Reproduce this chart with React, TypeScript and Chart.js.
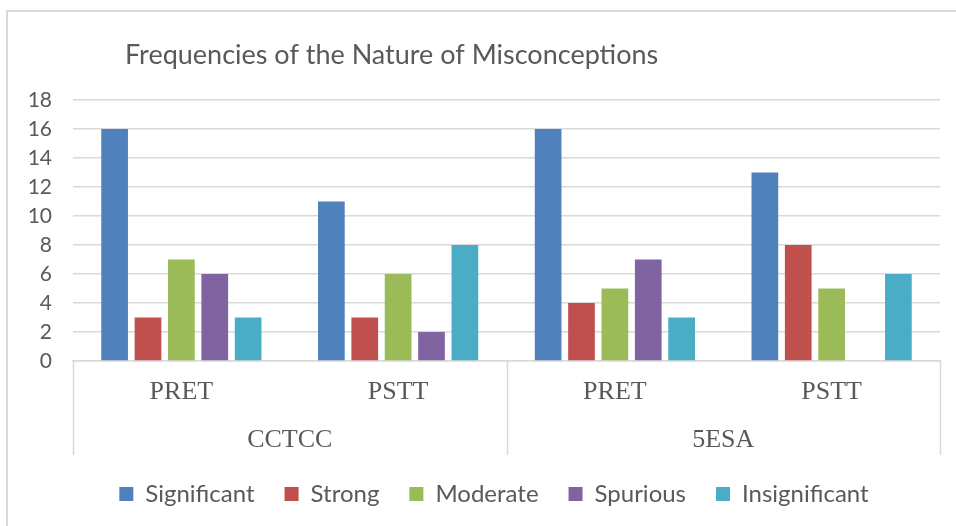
import React, { useEffect, useRef } from 'react';
import { Chart, registerables } from 'chart.js';

Chart.register(...registerables);

const categories = ['PRET', 'PSTT', 'PRET', 'PSTT'];
const groups = ['CCTCC', '5ESA'];
const groupSizes = [2, 2];
const seriesNames = ['Significant', 'Strong', 'Moderate', 'Spurious', 'Insignificant'];
const significant = [16, 11, 16, 13];
const strong = [3, 3, 4, 8];
const moderate = [7, 6, 5, 5];
const spurious = [6, 2, 7, 0];
const insignificant = [3, 8, 3, 6];
const seriesColors = ['#4F81BD', '#C0504D', '#9BBB59', '#8064A2', '#4BACC6'];
const yMin = 0;
const yMax = 18;
const yStep = 2;
const titleText = 'Frequencies of the Nature of Misconceptions';

const TEXT = '#595959';
const GRID = '#D9D9D9';
const SANS = 'Lato, "Open Sans", sans-serif';
const SERIF = '"Liberation Serif", "Times New Roman", serif';
const LEGEND_SHIFT = 24;

const titlePlugin = {
  id: 'customTitle',
  afterDraw(chart: any) {
    const ctx = chart.ctx;
    ctx.save();
    ctx.font = `27px ${SANS}`;
    ctx.fillStyle = TEXT;
    ctx.textAlign = 'left';
    ctx.textBaseline = 'middle';
    ctx.fillText(titleText, 125, 55);
    ctx.restore();
  },
};

const legendShiftPlugin = {
  id: 'legendShift',
  afterLayout(chart: any) {
    const lg = chart.legend;
    if (lg) {
      lg.left += LEGEND_SHIFT;
      lg.right += LEGEND_SHIFT;
    }
  },
};

const dividerPlugin = {
  id: 'groupDividers',
  afterDraw(chart: any) {
    const x = chart.scales.x;
    const x2 = chart.scales.x2;
    const ctx = chart.ctx;
    const top = chart.chartArea.bottom;
    const bottom = x2.bottom + 3;
    const bounds: number[] = [x.left];
    let idx = 0;
    for (let g = 0; g < groupSizes.length; g++) {
      idx += groupSizes[g];
      if (idx >= categories.length) {
        bounds.push(x.right);
      } else {
        bounds.push((x.getPixelForValue(idx - 1) + x.getPixelForValue(idx)) / 2);
      }
    }
    ctx.save();
    ctx.strokeStyle = GRID;
    ctx.lineWidth = 1.5;
    bounds.forEach((b) => {
      const px = Math.round(b) + 0.5;
      ctx.beginPath();
      ctx.moveTo(px, top);
      ctx.lineTo(px, bottom);
      ctx.stroke();
    });
    ctx.restore();
  },
};

export default function App() {
  const canvasRef = useRef<HTMLCanvasElement | null>(null);

  useEffect(() => {
    if (!canvasRef.current) return;
    const series = [significant, strong, moderate, spurious, insignificant];
    const chart = new Chart(canvasRef.current, {
      type: 'bar',
      data: {
        labels: categories,
        datasets: seriesNames.map((name, i) => ({
          label: name,
          data: series[i],
          backgroundColor: seriesColors[i],
          borderWidth: 0,
          barPercentage: 0.8,
          categoryPercentage: 0.77,
        })),
      },
      options: {
        animation: false,
        responsive: false,
        maintainAspectRatio: false,
        devicePixelRatio: 1,
        layout: { padding: { top: 100, right: 16, left: 0, bottom: 10 } },
        plugins: {
          title: { display: false },
          tooltip: { enabled: false },
          legend: {
            position: 'bottom',
            labels: {
              boxWidth: 14,
              boxHeight: 14,
              padding: 30,
              color: TEXT,
              font: { family: SANS, size: 24 },
            },
          },
        },
        scales: {
          y: {
            min: yMin,
            max: yMax,
            afterFit: (s: any) => {
              s.width = 73;
            },
            ticks: {
              stepSize: yStep,
              color: TEXT,
              padding: 21,
              font: { family: SANS, size: 21 },
            },
            grid: { color: GRID, lineWidth: 1.5, drawTicks: false },
            border: { display: false },
          },
          x: {
            position: 'bottom',
            afterFit: (s: any) => {
              s.height = 49;
            },
            ticks: {
              color: TEXT,
              padding: 16,
              font: { family: SERIF, size: 26 },
            },
            grid: { display: false, drawTicks: false },
            border: { display: true, color: GRID, width: 1.5 },
          },
          x2: {
            type: 'category',
            position: 'bottom',
            labels: groups,
            offset: true,
            afterFit: (s: any) => {
              s.height = 42;
            },
            ticks: {
              color: TEXT,
              padding: 15,
              font: { family: SERIF, size: 26 },
            },
            grid: { display: false, drawTicks: false },
            border: { display: false },
          },
        },
      },
      plugins: [titlePlugin, legendShiftPlugin, dividerPlugin],
    });
    return () => chart.destroy();
  }, []);

  return (
    <div style={{ position: 'absolute', left: 0, top: 0, width: 956, height: 526, overflow: 'hidden', background: '#fff' }}>
      <div
        style={{
          position: 'absolute',
          left: 6,
          top: 10,
          width: 1100,
          height: 700,
          border: `2px solid ${GRID}`,
          boxSizing: 'border-box',
        }}
      />
      <canvas ref={canvasRef} width={956} height={526} style={{ position: 'absolute', left: 0, top: 0, width: 956, height: 526 }} />
    </div>
  );
}
